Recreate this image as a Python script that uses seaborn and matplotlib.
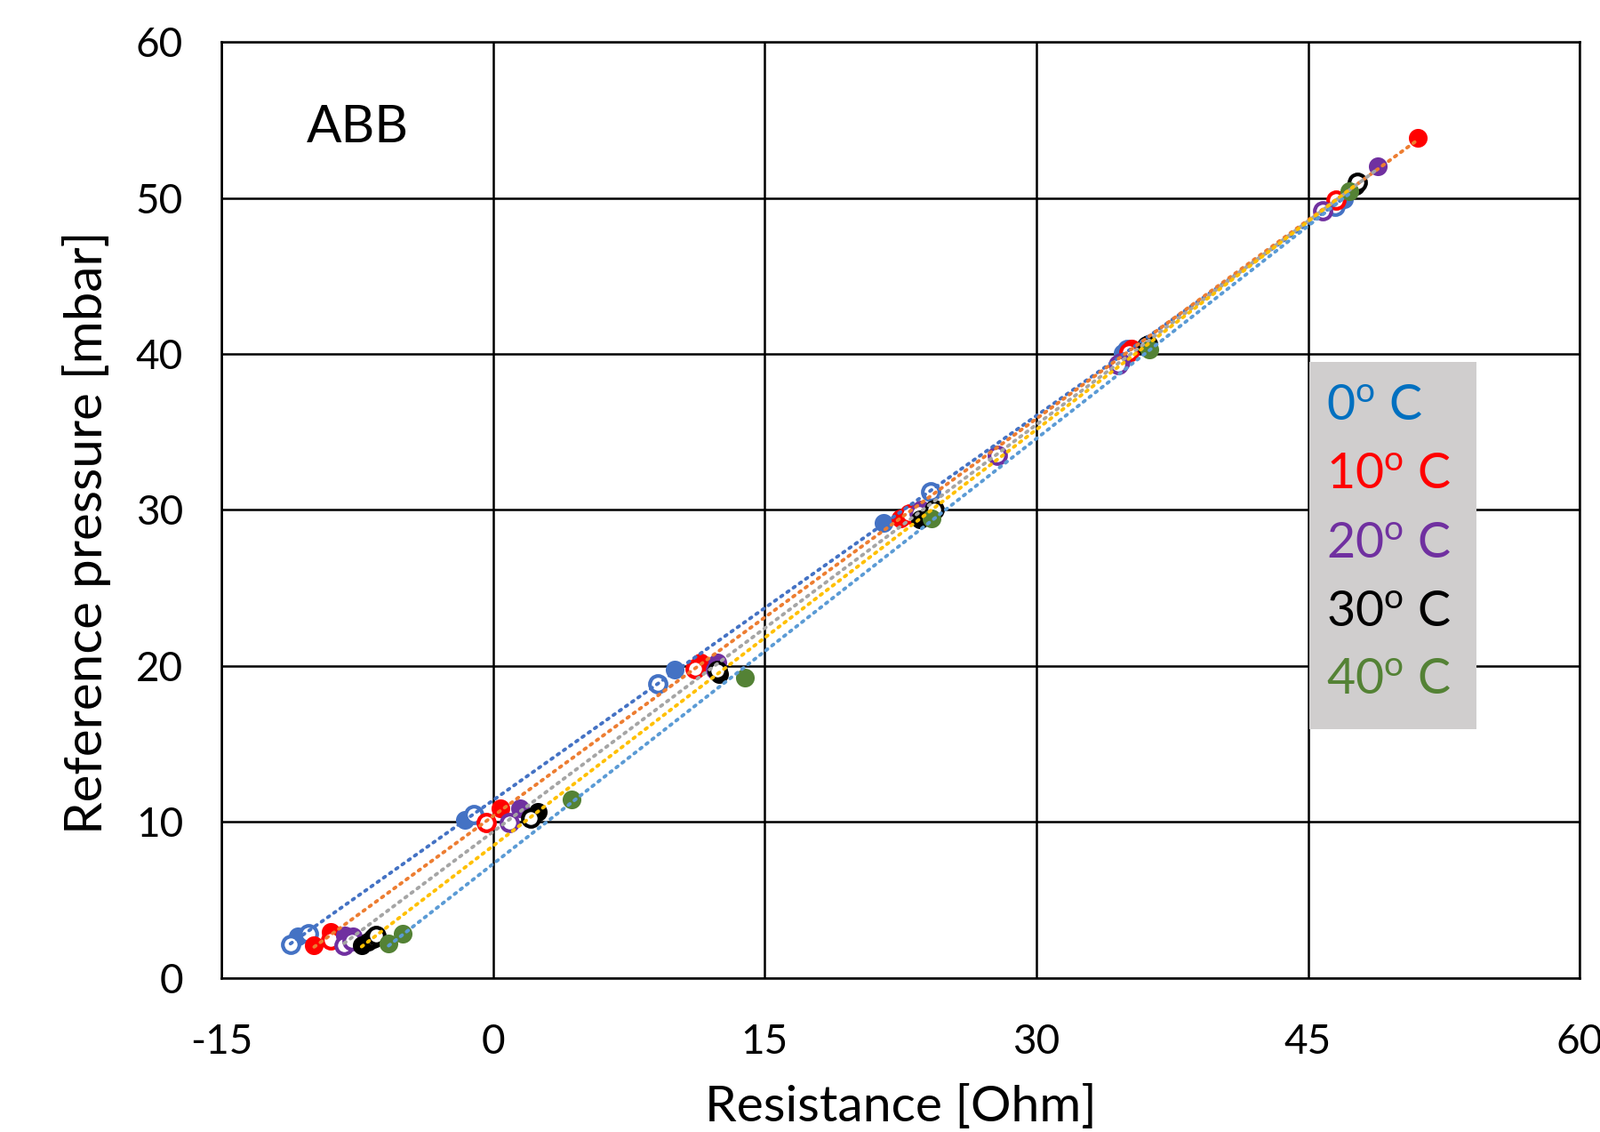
import numpy as np
import pandas as pd
import matplotlib
matplotlib.use("Agg")
import matplotlib.pyplot as plt
import seaborn as sns
from matplotlib.patches import Rectangle

# ---------------- data ----------------
temps = ["0", "10", "20", "30", "40"]
marker_colors = ["#4472C4", "#FF0000", "#7030A0", "#000000", "#548235"]
trend_colors = ["#4472C4", "#ED7D31", "#A5A5A5", "#FFC000", "#5B9BD5"]
legend_colors = ["#0070C0", "#FF0000", "#7030A0", "#000000", "#548235"]

# filled markers (R [Ohm], P [mbar]) and open markers
r0_fill = [-10.79, -1.54, 10.04, 21.56, 34.78, 47.0]
p0_fill = [2.66, 10.15, 19.75, 29.15, 40.08, 49.9]
r0_open = [-11.19, -10.21, -1.05, 9.09, 24.15, 35.0, 46.5]
p0_open = [2.17, 2.84, 10.47, 18.84, 31.15, 40.3, 49.48]

r10_fill = [-9.88, -8.98, 0.39, 11.47, 22.51, 35.27, 51.06]
p10_fill = [2.12, 2.94, 10.86, 20.22, 29.47, 40.36, 53.85]
r10_open = [-8.98, -0.36, 11.14, 23.0, 35.1, 46.56]
p10_open = [2.46, 9.96, 19.84, 29.72, 40.1, 49.86]

r20_fill = [-8.17, -7.76, 1.49, 12.40, 23.63, 34.65, 48.86]
p20_fill = [2.74, 2.65, 10.86, 20.22, 30.0, 39.5, 52.04]
r20_open = [-8.22, -7.8, 0.88, 12.28, 23.5, 27.83, 34.5, 45.83]
p20_open = [2.08, 2.4, 9.96, 19.79, 29.8, 33.52, 39.3, 49.2]

r30_fill = [-7.26, -6.9, 2.47, 12.5, 23.57, 36.17, 47.6]
p30_fill = [2.08, 2.35, 10.66, 19.47, 29.38, 40.65, 50.8]
r30_open = [-6.61, -6.45, 2.06, 12.4, 24.35, 36.1, 47.71]
p30_open = [2.55, 2.75, 10.25, 19.7, 30.05, 40.5, 51.0]

r40_fill = [-5.77, -5.01, 4.35, 13.92, 24.23, 36.25, 47.3]
p40_fill = [2.22, 2.87, 11.42, 19.27, 29.44, 40.27, 50.43]
r40_open = []
p40_open = []

x_ticks = [-15, 0, 15, 30, 45, 60]
y_ticks = [0, 10, 20, 30, 40, 50, 60]

fills = [(r0_fill, p0_fill), (r10_fill, p10_fill), (r20_fill, p20_fill),
         (r30_fill, p30_fill), (r40_fill, p40_fill)]
opens = [(r0_open, p0_open), (r10_open, p10_open), (r20_open, p20_open),
         (r30_open, p30_open), (r40_open, p40_open)]

# ---------------- style ----------------
sns.set_theme(style="white")
plt.rcParams['font.family'] = ['Lato', 'DejaVu Sans']
plt.rcParams['mathtext.fontset'] = 'custom'
plt.rcParams['mathtext.rm'] = 'Lato'
plt.rcParams['mathtext.it'] = 'Lato:italic'
plt.rcParams['axes.unicode_minus'] = False

fig = plt.figure(figsize=(18, 12.73), dpi=100)
ax = fig.add_axes([0.1384, 0.136, 0.9873 - 0.1384, 0.963 - 0.136])

for i, t in enumerate(temps):
    rf, pf = fills[i]
    ro, po = opens[i]
    df_f = pd.DataFrame({"R": rf, "P": pf})
    sns.scatterplot(data=df_f, x="R", y="P", ax=ax, s=230, color=marker_colors[i],
                    edgecolor=marker_colors[i], linewidth=0, zorder=3, legend=False)
    if len(ro):
        df_o = pd.DataFrame({"R": ro, "P": po})
        sns.scatterplot(data=df_o, x="R", y="P", ax=ax, s=180, facecolor="white",
                        edgecolor=marker_colors[i], linewidth=3.0, zorder=3, legend=False)
    df_all = pd.DataFrame({"R": list(rf) + list(ro), "P": list(pf) + list(po)})
    sns.regplot(data=df_all, x="R", y="P", ax=ax, scatter=False, ci=None, truncate=True,
                line_kws=dict(color=trend_colors[i], linewidth=2.8,
                              linestyle=(0, (0.6, 1.6)), dash_capstyle="round", zorder=4))

ax.set_xlim(-15, 60)
ax.set_ylim(0, 60)
ax.set_xticks(x_ticks)
ax.set_yticks(y_ticks)
ax.grid(True, color="black", linewidth=1.8, zorder=1)
ax.set_axisbelow(True)
for s in ax.spines.values():
    s.set_color("black")
    s.set_linewidth(1.8)
ax.tick_params(axis="x", labelsize=33, pad=37, length=0, colors="black")
ax.tick_params(axis="y", labelsize=33, pad=31, length=0, colors="black")
ax.set_xlabel("Resistance [Ohm]", fontsize=41, labelpad=19, color="black")
ax.set_ylabel("Reference pressure [mbar]", fontsize=42, labelpad=20, color="black")
ax.yaxis.label.set_y(0.476)

ax.text(-10.3, 54.5, "ABB", fontsize=42, ha="left", va="center", color="black")

# legend box
ax.add_patch(Rectangle((45.07, 15.97), 54.31 - 45.07, 39.46 - 15.97,
                       facecolor="#D0CECE", edgecolor="none", zorder=5))
rows = [36.6, 32.2, 27.8, 23.4, 19.05]
for i, t in enumerate(temps):
    ax.text(46.0, rows[i], t + r"$^{\mathrm{o}}$ C", fontsize=40, color=legend_colors[i],
            ha="left", va="center", zorder=6)

fig.savefig("out.png", dpi=100)
